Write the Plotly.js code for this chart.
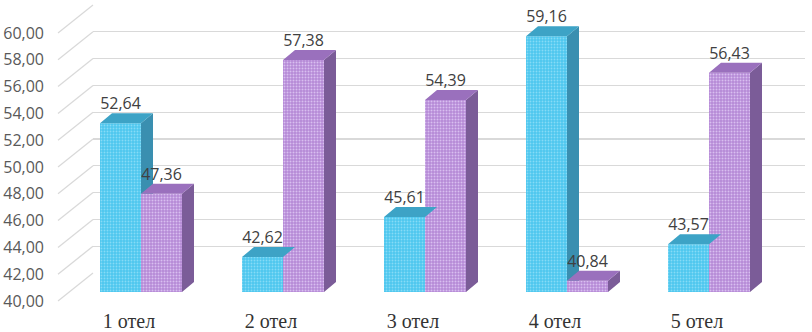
<!DOCTYPE html>
<html><head><meta charset="utf-8">
<script src="https://cdn.plot.ly/plotly-3.0.1.min.js"></script>
<style>html,body{margin:0;padding:0;background:#fff}#chart{width:812px;height:332px}</style>
</head><body><div id="chart"></div>
<script>
// ---- data ----
const categories = ['1 отел', '2 отел', '3 отел', '4 отел', '5 отел'];
const series1 = [52.64, 42.62, 45.61, 59.16, 43.57];
const series2 = [47.36, 57.38, 54.39, 40.84, 56.43];
const yTickValues = [40, 42, 44, 46, 48, 50, 52, 54, 56, 58, 60];

// ---- geometry (layout only) ----
const W = 812, H = 332, MT = 4, MB = 26;
const plotBot = H - MB, plotH = H - MT - MB;
const fy = px => (plotBot - px) / plotH;
const fx = px => px / W;
const bar = {x0: 70, x1: 780, y40: 292, y60: 25};
const front = {y40: 301, y60: 33, x: 58};
const back = {y40: 273, y60: 5, x0: 93, x1: 805};
const labelX = 45;
const pxPerCat = (bar.x1 - bar.x0) / categories.length;
const pxPerVal = (bar.y40 - bar.y60) / 20;
const dX = 12 / pxPerCat, dY = 10 / pxPerVal;
const barW = 41 / pxPerCat;
const idx = categories.map((c, i) => i);
const yMin = 40;

const fmt = v => v.toFixed(2).replace('.', ',');

const cyan = {front: '#4ec7ef', dots: '#86dbf6', side: '#3a8fb0', top: '#3da3c6'};
const purp = {front: '#b68ad6', dots: '#d8bff0', side: '#7b5c98', top: '#9a70bd'};

function topFaces(vals, off) {
  const x = [], y = [];
  vals.forEach((v, i) => {
    const xl = i + off, xr = xl + barW;
    x.push(xl, xr, xr + dX, xl + dX, xl, null);
    y.push(v, v, v + dY, v + dY, v, null);
  });
  return {x, y};
}
function sideFaces(vals, off, occluder) {
  const x = [], y = [];
  vals.forEach((v, i) => {
    const xr = i + off + barW;
    const p = occluder ? occluder[i] : yMin;
    if (!occluder) {
      x.push(xr, xr, xr + dX, xr + dX, xr, null);
      y.push(yMin, v, v + dY, yMin + dY, yMin, null);
    } else if (p <= v) {
      x.push(xr, xr, xr + dX, xr + dX, xr, null);
      y.push(p, v, v + dY, p, p, null);
    } else if (p < v + dY) {
      const t0 = (p - v) / dY;
      x.push(xr + t0 * dX, xr + dX, xr + dX, xr + t0 * dX, null);
      y.push(p, v + dY, p, p, null);
    }
  });
  return {x, y};
}

const off1 = -barW, off2 = 0;
const t1 = topFaces(series1, off1), s1 = sideFaces(series1, off1, series2);
const t2 = topFaces(series2, off2), s2 = sideFaces(series2, off2, null);

const poly = (d, color) => ({type: 'scatter', mode: 'lines', x: d.x, y: d.y, fill: 'toself',
  fillcolor: color, line: {width: 0, color: color}, xaxis: 'x2', yaxis: 'y2', hoverinfo: 'skip'});

const traces = [
  {type: 'scatter', x: [], y: [], xaxis: 'x', yaxis: 'y', hoverinfo: 'skip'},
  {type: 'scatter', x: [], y: [], xaxis: 'x3', yaxis: 'y3', hoverinfo: 'skip'},
  {type: 'bar', name: 'Ряд 1', x: idx, y: series1, width: barW, offset: off1, xaxis: 'x2', yaxis: 'y2',
   marker: {color: cyan.front, line: {width: 0},
            pattern: {shape: '.', bgcolor: cyan.front, fgcolor: cyan.dots, fgopacity: 1, size: 3, solidity: 0.3}}},
  {type: 'bar', name: 'Ряд 2', x: idx, y: series2, width: barW, offset: off2, xaxis: 'x2', yaxis: 'y2',
   marker: {color: purp.front, line: {width: 0},
            pattern: {shape: '.', bgcolor: purp.front, fgcolor: purp.dots, fgopacity: 1, size: 3, solidity: 0.35}}},
  poly(s1, cyan.side), poly(t1, cyan.top),
  poly(s2, purp.side), poly(t2, purp.top),
  {type: 'scatter', mode: 'text', xaxis: 'x2', yaxis: 'y2', cliponaxis: false, hoverinfo: 'skip',
   x: idx.map(i => i + off1 + barW / 2).concat(idx.map(i => i + off2 + barW / 2)),
   y: series1.map(v => v + dY).concat(series2.map(v => v + dY)),
   text: series1.map(fmt).concat(series2.map(fmt)), textposition: 'top center',
   textfont: {family: 'Open Sans, sans-serif', size: 16, color: '#404040'}}
];

const grid = '#d9d9d9';
const shapes = yTickValues.map(v => ({
  type: 'line', xref: 'paper', yref: 'paper', layer: 'below',
  x0: fx(front.x), y0: fy(front.y40 - (v - 40) * (front.y40 - front.y60) / 20),
  x1: fx(back.x0), y1: fy(back.y40 - (v - 40) * (back.y40 - back.y60) / 20),
  line: {color: grid, width: 1.3}
}));

const layout = {
  width: W, height: H, margin: {l: 0, r: 0, t: MT, b: MB, pad: 0},
  paper_bgcolor: '#ffffff', plot_bgcolor: 'rgba(0,0,0,0)', showlegend: false,
  separators: ', ', barmode: 'overlay',
  xaxis: {domain: [fx(back.x0), fx(back.x1)], range: [0, 1], visible: false, fixedrange: true},
  yaxis: {domain: [fy(back.y40), fy(back.y60)], range: [40, 60], tickvals: yTickValues, showgrid: true,
          gridcolor: grid, gridwidth: 1.3, showticklabels: false, zeroline: false, ticks: '', showline: false},
  xaxis2: {domain: [fx(bar.x0), fx(bar.x1)], range: [-0.5, 4.5], anchor: 'y2',
           tickvals: idx.map(i => i - dX), ticktext: categories, showgrid: false, zeroline: false,
           showline: false, ticks: '', ticklabelstandoff: 15,
           tickfont: {family: 'Liberation Serif, Times New Roman, serif', size: 20, color: '#333333'}},
  yaxis2: {domain: [fy(bar.y40), fy(bar.y60)], range: [40, 60], anchor: 'x2', visible: false},
  xaxis3: {domain: [fx(labelX), fx(labelX + 1)], range: [0, 1], anchor: 'y3', visible: false},
  yaxis3: {domain: [fy(front.y40), fy(front.y60)], range: [40, 60], anchor: 'x3', tickvals: yTickValues,
           tickformat: '.2f', showgrid: false, zeroline: false, ticks: '', showline: false,
           tickfont: {family: 'Open Sans, sans-serif', size: 16, color: '#595959'}},
  shapes: shapes
};

Plotly.newPlot('chart', traces, layout, {staticPlot: true, displayModeBar: false});
</script>
</body></html>
